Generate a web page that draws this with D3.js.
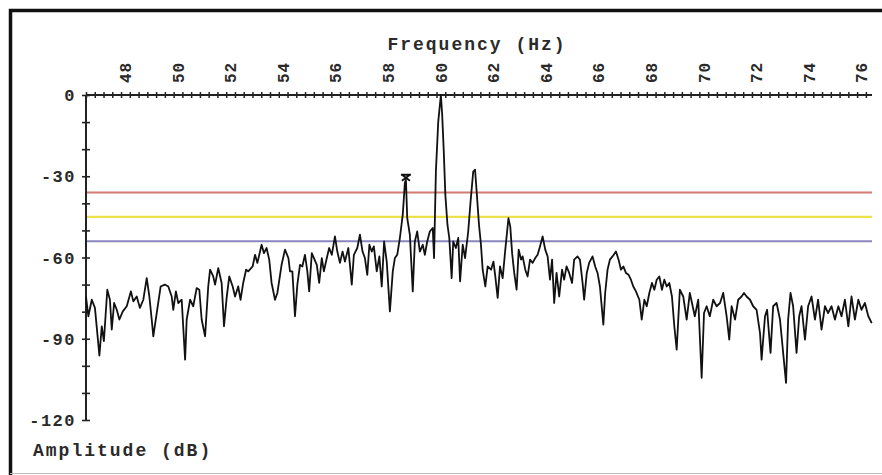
<!DOCTYPE html>
<html>
<head>
<meta charset="utf-8">
<script src="https://cdn.jsdelivr.net/npm/d3@7"></script>
<style>
body { margin: 0; background: #fff; }
svg { display: block; }
text { font-family: "Liberation Mono", "Courier New", monospace; font-weight: bold; fill: #2a2a2a; }
</style>
</head>
<body>
<svg width="882" height="475"></svg>
<script>
// spectrum trace (Hz, dB)
var freqHz = [46.50,46.59,46.72,46.84,47.01,47.10,47.18,47.31,47.41,47.48,47.57,47.67,47.77,47.90,48.05,48.21,48.30,48.43,48.55,48.68,
48.81,48.91,49.00,49.06,49.19,49.34,49.50,49.63,49.76,49.82,49.92,50.01,50.14,50.27,50.33,50.46,50.58,50.71,50.81,50.90,
51.03,51.15,51.22,51.34,51.41,51.53,51.66,51.75,51.85,51.95,52.08,52.17,52.29,52.38,52.48,52.59,52.67,52.84,52.93,53.02,
53.18,53.27,53.37,53.47,53.56,53.69,53.78,53.94,54.07,54.20,54.26,54.35,54.45,54.54,54.64,54.73,54.83,54.92,54.99,55.09,
55.17,55.28,55.37,55.47,55.55,55.66,55.75,55.85,55.97,56.06,56.16,56.26,56.35,56.48,56.61,56.69,56.82,56.92,57.02,57.11,
57.20,57.28,57.37,57.45,57.56,57.66,57.75,57.84,57.94,58.06,58.17,58.25,58.34,58.44,58.55,58.63,58.67,58.72,58.82,58.93,
59.01,59.10,59.20,59.31,59.39,59.48,59.58,59.69,59.74,59.81,59.90,60.00,60.05,60.11,60.17,60.25,60.32,60.41,60.47,60.57,
60.66,60.73,60.83,60.92,61.04,61.13,61.23,61.30,61.36,61.45,61.52,61.59,61.69,61.78,61.91,62.00,62.07,62.16,62.25,62.35,
62.45,62.57,62.64,62.71,62.79,62.88,62.96,63.05,63.11,63.21,63.30,63.39,63.49,63.59,63.68,63.77,63.87,63.97,64.06,64.15,
64.23,64.31,64.40,64.50,64.61,64.69,64.78,64.88,64.99,65.07,65.20,65.29,65.39,65.45,65.55,65.64,65.77,65.87,65.96,66.05,
66.18,66.25,66.34,66.43,66.53,66.66,66.76,66.85,66.94,67.04,67.14,67.23,67.32,67.42,67.55,67.64,67.74,67.83,67.93,68.03,
68.12,68.21,68.31,68.41,68.50,68.59,68.69,68.79,68.88,68.97,69.09,69.22,69.35,69.47,69.66,69.79,69.92,70.01,70.11,70.23,
70.36,70.49,70.62,70.74,70.87,70.97,71.06,71.19,71.31,71.44,71.53,71.63,71.76,71.88,72.01,72.14,72.20,72.33,72.41,72.54,
72.64,72.77,72.90,73.02,73.13,73.21,73.30,73.40,73.53,73.63,73.72,73.85,73.97,74.10,74.23,74.35,74.48,74.61,74.73,74.86,
74.99,75.12,75.24,75.37,75.50,75.62,75.75,75.88,76.00,76.13,76.26,76.39];
var ampDb = [-74.4,-81.7,-75.6,-78.6,-96.2,-85.4,-90.9,-71.9,-75.6,-86.6,-76.8,-79.3,-82.9,-79.9,-78.0,-72.5,-76.2,-74.4,-78.6,-75.6,
-67.6,-74.4,-82.9,-89.1,-80.5,-70.7,-70.0,-70.7,-74.4,-79.3,-72.5,-76.8,-75.6,-97.7,-82.9,-75.6,-78.0,-71.3,-71.9,-82.9,
-89.1,-70.7,-64.5,-67.0,-70.0,-63.9,-69.4,-85.4,-74.9,-67.0,-70.7,-74.4,-70.7,-75.6,-69.4,-64.5,-65.1,-63.3,-59.0,-62.0,
-55.3,-58.4,-56.5,-60.8,-69.4,-75.6,-73.1,-62.7,-57.1,-60.2,-65.1,-65.1,-81.7,-70.0,-62.7,-63.3,-59.0,-65.1,-72.5,-58.4,
-60.2,-62.7,-69.4,-60.2,-65.1,-60.2,-56.5,-59.0,-52.2,-57.8,-62.0,-57.8,-61.5,-56.5,-70.0,-59.0,-56.5,-51.6,-57.8,-60.2,
-66.4,-55.3,-57.8,-55.9,-65.1,-59.6,-70.7,-54.1,-61.5,-79.9,-65.1,-60.2,-59.0,-52.8,-44.2,-32.4,-31.3,-45.5,-51.6,-72.5,
-54.1,-50.4,-57.8,-55.3,-59.0,-54.1,-50.4,-49.1,-60.2,-28.3,-9.8,0,-7.4,-20.9,-36.9,-47.9,-52.8,-67.6,-54.1,-56.5,
-52.8,-68.8,-55.3,-60.2,-50.4,-39.3,-28.3,-27.6,-35.6,-47.9,-54.7,-64.5,-70.7,-63.3,-64.5,-61.5,-67.0,-74.9,-63.3,-67.6,
-57.1,-45.5,-48.6,-58.4,-65.7,-71.9,-57.1,-60.8,-59.6,-64.5,-67.0,-60.8,-62.0,-60.2,-59.0,-55.9,-52.2,-57.1,-59.6,-68.2,
-60.8,-76.8,-65.7,-74.4,-64.5,-68.2,-63.3,-65.7,-69.4,-60.8,-59.6,-60.8,-69.4,-75.6,-65.7,-62.0,-59.6,-63.3,-65.7,-70.7,
-84.8,-73.1,-64.5,-60.8,-59.6,-57.8,-60.8,-64.5,-63.3,-65.7,-66.4,-68.2,-70.7,-72.5,-75.6,-82.9,-75.6,-78.0,-73.1,-69.4,
-71.9,-68.2,-67.0,-71.9,-68.2,-70.7,-69.4,-74.4,-85.4,-94.0,-71.9,-74.4,-82.9,-73.1,-81.7,-75.6,-104.4,-80.5,-78.0,-81.7,
-75.6,-78.0,-76.8,-73.1,-81.7,-90.3,-78.0,-82.9,-75.6,-74.4,-73.1,-74.4,-75.6,-78.0,-79.3,-87.9,-97.7,-81.7,-79.3,-95.2,
-78.0,-76.8,-82.9,-95.2,-106.3,-82.9,-73.1,-78.0,-95.2,-81.7,-78.0,-90.3,-78.0,-74.4,-82.9,-75.6,-86.6,-78.0,-80.5,-78.0,
-82.9,-78.0,-81.7,-75.6,-85.4,-74.4,-82.9,-75.6,-79.3,-76.8,-81.7,-84.2];

// limit lines
var limitDb = [-36, -45, -54];
var limitColors = ["#d27b72", "#eee04a", "#8a86bd"];

// marked peak
var markerHz = 58.67;
var markerDb = -31.3;

var xTickLabels = [48,50,52,54,56,58,60,62,64,66,68,70,72,74,76];
var yTickLabels = [0,-30,-60,-90,-120];

var svg = d3.select("svg");

var plotLeft = 86, plotRight = 872, plotTop = 95, plotBottom = 420;

var Xscale = d3.scaleLinear().domain([46.5, 76.4]).range([plotLeft, plotRight]);
var Yscale = d3.scaleLinear().domain([-120, 0]).range([plotBottom, plotTop]);

//Frame
svg.append("rect").attr("x", 0).attr("y", 0).attr("width", 882).attr("height", 475).style("fill", "#fff");
svg.append("path")
    .attr("d", "M10.5,475 L10.5,10.5 L882,10.5")
    .style("fill", "none").style("stroke", "#111").style("stroke-width", 3.5);
svg.append("line").attr("x1", 10).attr("x2", 882).attr("y1", 473.5).attr("y2", 473.5)
    .style("stroke", "#bbb").style("stroke-width", 1);

//Limit lines
svg.selectAll(".limit")
    .data(limitDb)
    .enter()
    .append("line")
    .attr("class", "limit")
    .attr("x1", plotLeft)
    .attr("x2", plotRight)
    .attr("y1", function(d){ return Yscale(d); })
    .attr("y2", function(d){ return Yscale(d); })
    .style("stroke", function(d, i){ return limitColors[i]; })
    .style("stroke-width", 2.2);

//XAxis (top)
var xaxis = d3.axisTop(Xscale)
    .tickValues(d3.range(0, 90).map(function(i){ return 46.5 + i / 3; }).filter(function(v){ return v <= 76.4; }))
    .tickSize(3)
    .tickFormat("");
var gx = svg.append("g").attr("transform", "translate(0," + plotTop + ")").call(xaxis);
gx.selectAll(".tick line").attr("y2", 3).attr("y1", -3).style("stroke", "#222").style("stroke-width", 1.5);
gx.select(".domain").attr("d", "M" + plotLeft + ",0H" + plotRight).style("stroke", "#222").style("stroke-width", 2);

svg.selectAll(".xlab")
    .data(xTickLabels)
    .enter()
    .append("text")
    .attr("class", "xlab")
    .attr("transform", function(d){ return "translate(" + Xscale(d) + ",83) rotate(-90)"; })
    .attr("dy", "0.36em")
    .style("font-size", "16px")
    .style("letter-spacing", "1px")
    .text(function(d){ return d; });

//YAxis
var yaxis = d3.axisLeft(Yscale)
    .tickValues(d3.range(-120, 1, 10))
    .tickSize(4)
    .tickFormat("");
var gy = svg.append("g").attr("transform", "translate(" + plotLeft + ",0)").call(yaxis);
gy.selectAll(".tick line").attr("x1", -4).attr("x2", 4).style("stroke", "#222").style("stroke-width", 1.6);
gy.select(".domain").attr("d", "M0," + plotTop + "V" + plotBottom).style("stroke", "#222").style("stroke-width", 2);

svg.selectAll(".ylab")
    .data(yTickLabels)
    .enter()
    .append("text")
    .attr("class", "ylab")
    .attr("x", 76)
    .attr("y", function(d){ return Yscale(d); })
    .attr("dy", "0.36em")
    .style("text-anchor", "end")
    .style("font-size", "17px")
    .style("letter-spacing", "1.5px")
    .text(function(d){ return d; });

//Trace
var line = d3.line()
    .x(function(d){ return Xscale(d); })
    .y(function(d, i){ return Yscale(ampDb[i]); });
svg.append("path")
    .datum(freqHz)
    .attr("d", line)
    .style("fill", "none")
    .style("stroke", "#111")
    .style("stroke-width", 1.8)
    .style("stroke-linejoin", "round");

//Marker on the 58.7 Hz peak
var mx = Xscale(markerHz), my = Yscale(markerDb) - 2;
svg.append("path")
    .attr("d", "M" + (mx-5) + "," + (my-3) + "H" + (mx+5) +
               "M" + (mx-4) + "," + (my-3) + "L" + (mx+4) + "," + (my+3) +
               "M" + (mx+4) + "," + (my-3) + "L" + (mx-4) + "," + (my+3))
    .style("fill", "none").style("stroke", "#111").style("stroke-width", 1.8);

//Axis titles
svg.append("text")
    .attr("x", 477)
    .attr("y", 50)
    .style("text-anchor", "middle")
    .style("font-size", "18px")
    .style("letter-spacing", "2px")
    .text("Frequency (Hz)");

svg.append("text")
    .attr("x", 33)
    .attr("y", 456)
    .style("font-size", "18px")
    .style("letter-spacing", "2px")
    .text("Amplitude (dB)");
</script>
</body>
</html>
